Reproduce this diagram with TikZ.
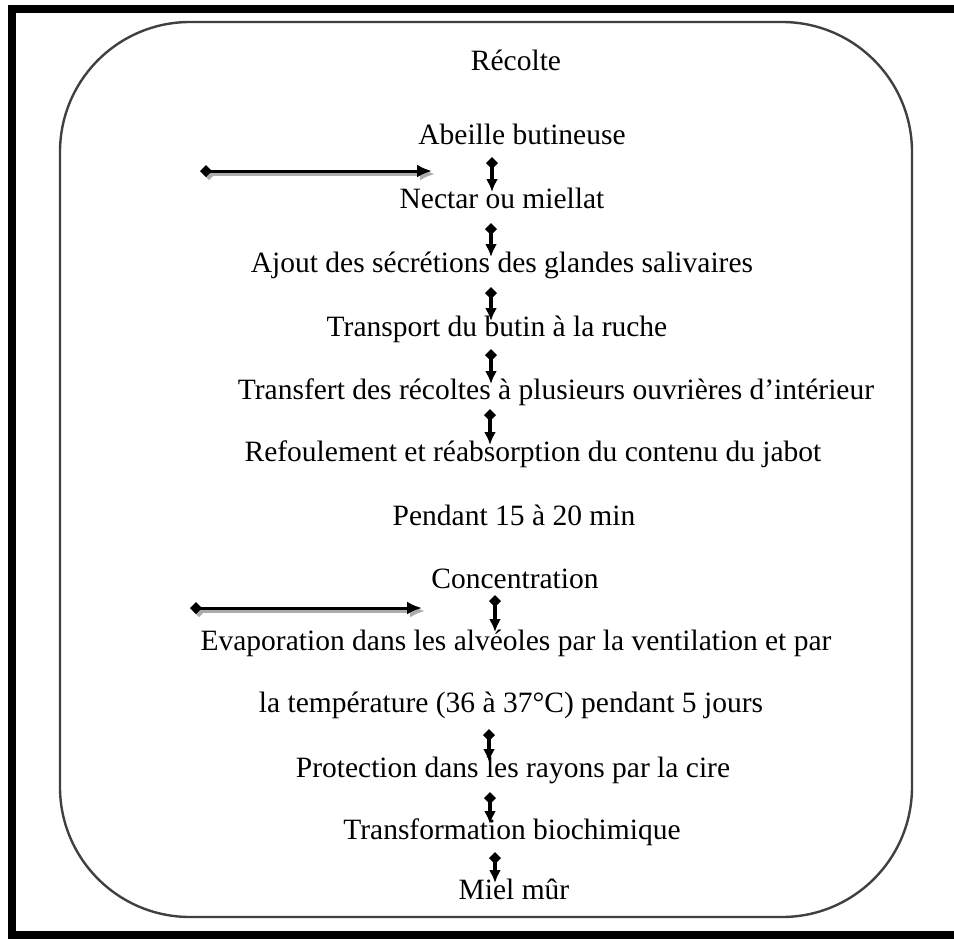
\documentclass[tikz,border=0pt]{standalone}
\usepackage{fontspec}
\setmainfont{Liberation Serif}
\usetikzlibrary{arrows.meta}
\begin{document}
\begin{tikzpicture}[x=1pt,y=-1pt,
  lbl/.style={font=\fontsize{29.5}{32}\selectfont, inner sep=0pt, anchor=base},
  varrow/.style={line width=3.2pt, {Diamond[length=12pt,width=12pt]}-{Latex[length=13pt,width=12pt]}},
  harrow/.style={line width=3pt, {Diamond[length=12pt,width=12pt]}-{Latex[length=15pt,width=13pt]}},
  hshadow/.style={line width=3pt, gray!65, {Diamond[length=12pt,width=12pt]}-{Latex[length=15pt,width=13pt]}},
  frameline/.style={black, line width=8pt},
  box/.style={draw=black!75, line width=2.4pt, rounded corners=130pt}]
\useasboundingbox (0,0) rectangle (954,938);
% outer frame
\draw[frameline] (12,938) -- (12,9) -- (954,9);
\draw[frameline] (8,935) -- (954,935);
% rounded box
\draw[box] (60,22) rectangle (912,917);
% texts
\node[lbl] (t0) at (516,70) {Récolte};
\node[lbl] (t1) at (522,144) {Abeille butineuse};
\node[lbl] (t2) at (502,208) {Nectar ou miellat};
\node[lbl] (t3) at (502,272) {Ajout des sécrétions des glandes salivaires};
\node[lbl] (t4) at (497,336) {Transport du butin à la ruche};
\node[lbl] (t5) at (556,399) {Transfert des récoltes à plusieurs ouvrières d’intérieur};
\node[lbl] (t6) at (533,461) {Refoulement et réabsorption du contenu du jabot};
\node[lbl] (t7) at (514,525) {Pendant 15 à 20 min};
\node[lbl] (t8) at (515,588) {Concentration};
\node[lbl] (t9) at (516,650) {Evaporation dans les alvéoles par la ventilation et par};
\node[lbl] (t10) at (511,712) {la température (36 à 37°C) pendant 5 jours};
\node[lbl] (t11) at (513,777) {Protection dans les rayons par la cire};
\node[lbl] (t12) at (512,839) {Transformation biochimique};
\node[lbl] (t13) at (514,899) {Miel mûr};
% arrow coordinates
\coordinate (a1s) at (492,157); \coordinate (a1e) at (492,192);
\coordinate (a2s) at (491,223); \coordinate (a2e) at (491,257);
\coordinate (a3s) at (491,287); \coordinate (a3e) at (491,321);
\coordinate (a4s) at (491,349); \coordinate (a4e) at (491,384);
\coordinate (a5s) at (490,409); \coordinate (a5e) at (490,445);
\coordinate (a6s) at (495,595); \coordinate (a6e) at (495,632);
\coordinate (a7s) at (489,729); \coordinate (a7e) at (489,762);
\coordinate (a8s) at (490,792); \coordinate (a8e) at (490,824);
\coordinate (a9s) at (495,852); \coordinate (a9e) at (495,883);
\foreach \i in {1,...,9} \draw[varrow] (a\i s) -- (a\i e);
% horizontal arrows
\coordinate (h1s) at (200,171); \coordinate (h1e) at (432,171);
\coordinate (h2s) at (190,608); \coordinate (h2e) at (422,608);
\coordinate (h1ss) at (203,174); \coordinate (h1se) at (435,174);
\coordinate (h2ss) at (193,611); \coordinate (h2se) at (425,611);
\draw[hshadow] (h1ss) -- (h1se);
\draw[hshadow] (h2ss) -- (h2se);
\draw[harrow] (h1s) -- (h1e);
\draw[harrow] (h2s) -- (h2e);
\end{tikzpicture}
\end{document}
